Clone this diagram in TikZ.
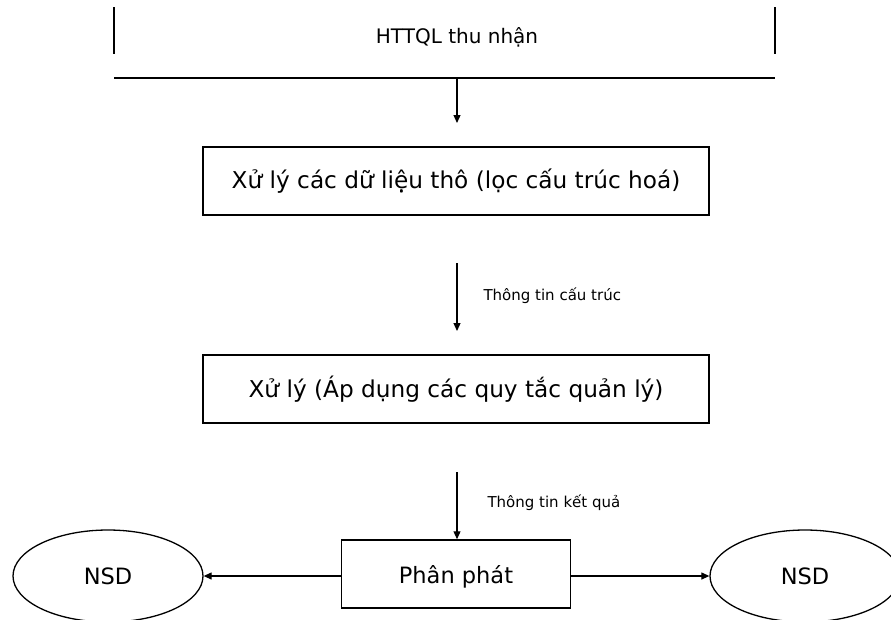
\documentclass[tikz,border=0pt]{standalone}
\usepackage{fontspec}
\setmainfont{DejaVu Sans}
\usetikzlibrary{arrows.meta,shapes.geometric}
\begin{document}
\begin{tikzpicture}[x=1pt,y=-1pt,
  boxstyle/.style={draw,line width=1.5pt,minimum height=68pt,inner sep=0pt},
  ovalstyle/.style={draw,ellipse,line width=1.3pt,minimum width=190pt,minimum height=92pt,inner sep=0pt},
  arr/.style={-{Triangle[length=8pt,width=7pt]},line width=1.2pt},
  bigtext/.style={font=\fontsize{23.2}{27}\selectfont},
  midtext/.style={font=\fontsize{22.5}{26}\selectfont},
  toptext/.style={font=\fontsize{20}{24}\selectfont},
  smalltext/.style={font=\fontsize{15}{18}\selectfont},
  edgeline/.style={line width=1.4pt}]
\useasboundingbox (0,0) rectangle (891,619);
% top store
\coordinate (tl1) at (114,7); \coordinate (tl2) at (114,54);
\coordinate (tr1) at (775,7); \coordinate (tr2) at (775,54);
\coordinate (hl) at (114,78); \coordinate (hr) at (775,78);
\draw[edgeline] (tl1) -- (tl2);
\draw[edgeline] (tr1) -- (tr2);
\draw[edgeline] (hl) -- (hr);
\node[toptext] (store) at (457,37) {HTTQL thu nhận};
\coordinate (a1s) at (457,78); \coordinate (a1e) at (457,123);
\draw[arr] (a1s) -- (a1e);
% box 1
\node[boxstyle,minimum width=506pt,bigtext] (b1) at (456,181) {Xử lý các dữ liệu thô (lọc cấu trúc hoá)};
\coordinate (a2s) at (457,263); \coordinate (a2e) at (457,331);
\draw[arr] (a2s) -- (a2e);
\node[smalltext,anchor=west] (l2) at (480,296) {Thông tin cấu trúc};
% box 2
\node[boxstyle,minimum width=506pt,bigtext] (b2) at (456,389) {Xử lý (Áp dụng các quy tắc quản lý)};
\coordinate (a3s) at (457,472);
\node[smalltext,anchor=west] (l3) at (484,503) {Thông tin kết quả};
% bottom
\node[boxstyle,minimum width=229pt] (pp) at (456,574) {};
\node[midtext] (pptext) at (456,577) {Phân phát};
\draw[arr] (a3s) -- (pp.north -| a3s);
\node[ovalstyle,midtext] (n1) at (108,576) {NSD};
\node[ovalstyle,midtext] (n2) at (805,576) {NSD};
\draw[arr] (pp.west |- n1.east) -- (n1.east);
\draw[arr] (pp.east |- n2.west) -- (n2.west);
\end{tikzpicture}
\end{document}
